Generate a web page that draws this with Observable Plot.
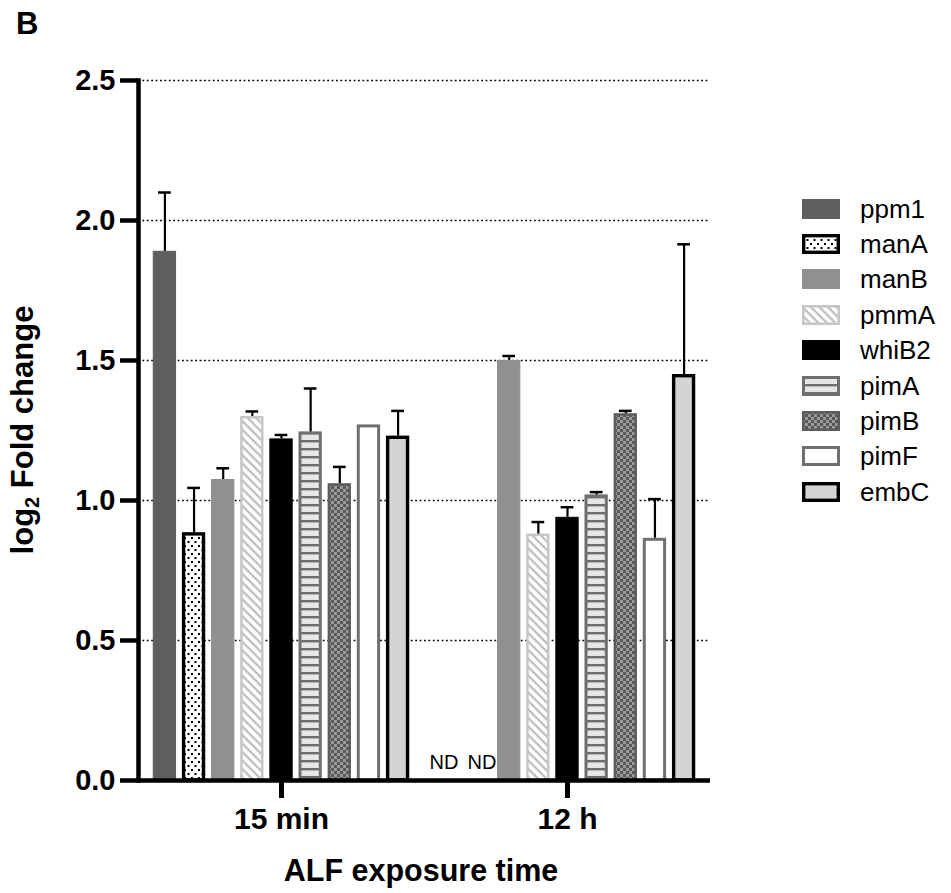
<!DOCTYPE html>
<html><head><meta charset="utf-8">
<script src="https://cdn.jsdelivr.net/npm/d3@7"></script>
<script src="https://cdn.jsdelivr.net/npm/@observablehq/plot@0.6"></script>
<style>
body{margin:0;background:#fff;font-family:"Liberation Sans",Arial,sans-serif;}
#wrap{position:relative;width:951px;height:893px;}
#panel{position:absolute;left:16px;top:8px;font-size:31px;font-weight:bold;line-height:1;color:#000;}
#legend{position:absolute;left:802px;top:191px;}
.row{display:flex;align-items:center;height:35.4px;}
.row svg{display:block}
.row span{margin-left:20px;font-size:26px;color:#000;line-height:1;}
</style></head><body>
<svg width="0" height="0" style="position:absolute">
<defs>
 <pattern id="p-dots" patternUnits="userSpaceOnUse" width="7" height="8">
   <rect width="7" height="8" fill="#fff"/>
   <rect x="1" y="1" width="2" height="2" fill="#000"/>
   <rect x="4.5" y="5" width="2" height="2" fill="#000"/>
 </pattern>
 <pattern id="p-hatch" patternUnits="userSpaceOnUse" width="6" height="6" patternTransform="rotate(45)">
   <rect width="6" height="6" fill="#fff"/>
   <rect y="0" width="6" height="2.2" fill="#bdbdbd"/>
 </pattern>
 <pattern id="p-hlines" patternUnits="userSpaceOnUse" width="8" height="8">
   <rect width="8" height="8" fill="#e6e6e6"/>
   <rect y="0" width="8" height="2.4" fill="#6e6e6e"/>
 </pattern>
 <pattern id="p-check" patternUnits="userSpaceOnUse" width="6" height="6">
   <rect width="6" height="6" fill="#9a9a9a"/>
   <rect width="3" height="3" fill="#585858"/>
   <rect x="3" y="3" width="3" height="3" fill="#585858"/>
 </pattern>
</defs></svg>
<div id="wrap"><div id="panel">B</div><div id="legend"></div></div>
<script>
// ---- data ----
const groups = ["15 min", "12 h"];
const genes = ["ppm1", "manA", "manB", "pmmA", "whiB2", "pimA", "pimB", "pimF", "embC"];
const mean15 = [1.89, 0.885, 1.075, 1.30, 1.22, 1.245, 1.06, 1.27, 1.23];
const err15  = [0.21, 0.16, 0.04, 0.018, 0.014, 0.155, 0.06, 0, 0.09];
const mean12 = [null, null, 1.50, 0.88, 0.94, 1.02, 1.31, 0.865, 1.45];
const err12  = [null, null, 0.016, 0.043, 0.036, 0.01, 0.01, 0.14, 0.465];
const yTicks = [0, 0.5, 1.0, 1.5, 2.0, 2.5];
const ndLabel = "ND";

// ---- styles ----
const styles = {
  ppm1: {fill: "#5f5f5f", stroke: "#5f5f5f", sw: 1, ndDx: -7},
  manA: {fill: "url(#p-dots)", stroke: "#000", sw: 3.4, ndDx: 2},
  manB: {fill: "#909090", stroke: "#909090", sw: 1},
  pmmA: {fill: "url(#p-hatch)", stroke: "#c6c6c6", sw: 2.5},
  whiB2: {fill: "#000", stroke: "#000", sw: 1},
  pimA: {fill: "url(#p-hlines)", stroke: "#707070", sw: 3},
  pimB: {fill: "url(#p-check)", stroke: "#5c5c5c", sw: 2.5},
  pimF: {fill: "#fff", stroke: "#707070", sw: 3},
  embC: {fill: "#d4d4d4", stroke: "#000", sw: 3.4}
};

const data = [];
genes.forEach((g, i) => {
  data.push({group: groups[0], gene: g, mean: mean15[i], err: err15[i]});
  data.push({group: groups[1], gene: g, mean: mean12[i], err: err12[i]});
});
const present = data.filter(d => d.mean != null);
const withErr = present.filter(d => d.err > 0);
const missing = data.filter(d => d.mean == null);

const barMarks = genes.map(g => {
  const s = styles[g], h = s.sw / 2;
  return Plot.barY(present.filter(d => d.gene === g), {
    fx: "group", x: "gene", y: "mean",
    fill: s.fill, stroke: s.stroke, strokeWidth: s.sw,
    insetLeft: h, insetRight: h, insetTop: h
  });
});

const ndMarks = genes.filter(g => missing.some(d => d.gene === g)).map(g =>
  Plot.text(missing.filter(d => d.gene === g), {
    fx: "group", x: "gene", frameAnchor: "bottom", dy: -12, dx: styles[g].ndDx || 0,
    text: () => ndLabel, fontSize: 20, fill: "#000"
  })
);

const chart = Plot.plot({
  width: 951, height: 893,
  marginTop: 80, marginBottom: 113, marginLeft: 137, marginRight: 241,
  style: {fontFamily: '"Liberation Sans", Arial, sans-serif', background: "transparent", color: "#000"},
  fx: {domain: groups, padding: 0, label: null},
  x: {domain: genes, paddingInner: 0.2, paddingOuter: 0.506, round: false, axis: null},
  y: {domain: [0, 2.5], label: null},
  marks: [
    Plot.gridY(yTicks.filter(t => t > 0), {stroke: "#000", strokeOpacity: 1, strokeWidth: 1.4, strokeDasharray: "1.8,2.6"}),
    ...barMarks,
    Plot.ruleX(withErr, {fx: "group", x: "gene", y1: "mean", y2: d => d.mean + d.err, stroke: "#000", strokeWidth: 2.2}),
    Plot.tickY(withErr, {fx: "group", x: "gene", y: d => d.mean + d.err, stroke: "#000", strokeWidth: 2.5, insetLeft: 5.3, insetRight: 5.3}),
    ...ndMarks,
    Plot.ruleY([0], {stroke: "#000", strokeWidth: 4.5}),
    Plot.frame({anchor: "left", stroke: "#000", strokeWidth: 4.5, facetAnchor: "left"}),
    Plot.axisY(yTicks, {tickSize: 18, tickPadding: 5, tickFormat: d3.format(".1f"), fontSize: 29, fontWeight: "bold", strokeWidth: 4.5, label: null}),
    Plot.axisFx({anchor: "bottom", tickSize: 18, tickPadding: 9, strokeWidth: 5, fontSize: 30, fontWeight: "bold", label: null})
  ]
});

const svg = d3.select(chart);
const yl = svg.append("text").attr("transform", "translate(33,430) rotate(-90)").attr("text-anchor", "middle")
  .attr("font-size", 31).attr("font-weight", "bold").attr("fill", "#000");
yl.append("tspan").text("log");
yl.append("tspan").attr("font-size", 20).attr("dy", 6).text("2");
yl.append("tspan").attr("dy", -6).text(" Fold change");
svg.append("text").attr("x", 421).attr("y", 881).attr("text-anchor", "middle").attr("font-size", 30.5)
  .attr("font-weight", "bold").attr("fill", "#000").text("ALF exposure time");

const wrap = document.getElementById("wrap");
wrap.insertBefore(chart, wrap.firstChild);

// ---- legend ----
const legend = d3.select("#legend");
genes.forEach(g => {
  const s = styles[g];
  const row = legend.append("div").attr("class", "row");
  const sv = row.append("svg").attr("width", 38).attr("height", 20);
  const h = Math.max(s.sw, 1.5) / 2;
  sv.append("rect").attr("x", h).attr("y", h).attr("width", 38 - 2 * h).attr("height", 20 - 2 * h)
    .attr("fill", s.fill).attr("stroke", s.stroke).attr("stroke-width", Math.max(s.sw, 1.5));
  row.append("span").text(g);
});
</script>
</body></html>
